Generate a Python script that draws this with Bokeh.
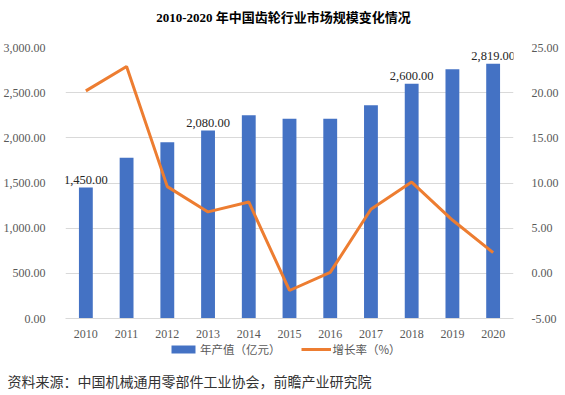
from bokeh.plotting import figure
from bokeh.layouts import column
from bokeh.models import (Range1d, LinearAxis, FactorRange, FixedTicker, NumeralTickFormatter,
                          ColumnDataSource, LabelSet, Label, Legend, LegendItem, Title)
from bokeh.embed import file_html
from bokeh.resources import INLINE
from bokeh.core.properties import value

# ---------------- data ----------------
years = ["2010", "2011", "2012", "2013", "2014", "2015", "2016", "2017", "2018", "2019", "2020"]
output_value = [1450, 1780, 1950, 2080, 2250, 2210, 2210, 2360, 2600, 2760, 2819]   # 年产值（亿元）
growth_rate = [20.2, 22.9, 9.6, 6.8, 7.9, -1.9, 0.1, 7.1, 10.1, 5.9, 2.3]          # 增长率（%）
labeled_years = ["2010", "2013", "2018", "2020"]
left_ticks = [0, 500, 1000, 1500, 2000, 2500, 3000]
right_ticks = [-5, 0, 5, 10, 15, 20, 25]
title_text = "2010-2020 年中国齿轮行业市场规模变化情况"
source_text = "资料来源：中国机械通用零部件工业协会，前瞻产业研究院"
bar_name = "年产值（亿元）"
line_name = "增长率（%）"

# ---------------- styles ----------------
SERIF = "Liberation Serif"
CJK = "Noto Sans CJK SC"
BAR_COLOR = "#4472C4"
LINE_COLOR = "#ED7D31"
TICK_COLOR = "#595959"
GRID_COLOR = "#D9D9D9"
W = 563
LEFT, RIGHT = 65, 50


def blank(height):
    f = figure(width=W, height=height, min_border_left=LEFT, min_border_right=RIGHT,
               min_border_top=0, min_border_bottom=0,
               x_axis_location=None, y_axis_location=None,
               output_backend="svg", toolbar_location=None, outline_line_color=None,
               background_fill_color="white", border_fill_color="white")
    f.grid.grid_line_color = None
    return f


src = ColumnDataSource(dict(year=years, value=output_value, rate=growth_rate))

# ---------------- header (title) ----------------
p_head = blank(33)
p_head.add_layout(Label(x=218, y=16, x_units="screen", y_units="screen", text=title_text,
                        text_align="center", text_baseline="middle",
                        text_font=f"{SERIF}, {CJK}", text_font_size="13px",
                        text_font_style="bold", text_color="#000000"))

# ---------------- main chart ----------------
lab_vals = [output_value[years.index(y)] for y in labeled_years]
lab_src = ColumnDataSource(dict(year=labeled_years, value=lab_vals,
                                text=[f"{v:,.2f}" for v in lab_vals]))

p = figure(x_range=FactorRange(*years), y_range=Range1d(0, 3000),
           width=W, height=307,
           min_border_left=LEFT, min_border_right=RIGHT, min_border_top=14, min_border_bottom=20,
           output_backend="svg", toolbar_location=None,
           outline_line_color=None, background_fill_color="white", border_fill_color="white")
p.extra_y_ranges = {"rate": Range1d(-5, 25)}

p.yaxis.ticker = FixedTicker(ticks=left_ticks)
p.yaxis.formatter = NumeralTickFormatter(format="0,0.00")
p.yaxis.axis_line_color = None
p.yaxis.major_tick_line_color = None
p.yaxis.minor_tick_line_color = None
p.yaxis.major_label_standoff = 14
p.yaxis.major_label_text_font = SERIF
p.yaxis.major_label_text_font_size = "12px"
p.yaxis.major_label_text_color = TICK_COLOR

raxis = LinearAxis(y_range_name="rate", ticker=FixedTicker(ticks=right_ticks),
                   formatter=NumeralTickFormatter(format="0.00"),
                   axis_line_color=None, major_tick_line_color=None, minor_tick_line_color=None,
                   major_label_standoff=12, major_label_text_font=SERIF,
                   major_label_text_font_size="12px", major_label_text_color=TICK_COLOR)
p.add_layout(raxis, "right")

p.xaxis.axis_line_color = GRID_COLOR
p.xaxis.major_tick_line_color = None
p.xaxis.minor_tick_line_color = None
p.xaxis.major_label_standoff = 5
p.xaxis.major_label_text_font = SERIF
p.xaxis.major_label_text_font_size = "12px"
p.xaxis.major_label_text_color = TICK_COLOR

p.xgrid.grid_line_color = None
p.ygrid.grid_line_color = GRID_COLOR
p.ygrid.grid_line_width = 1

p.vbar(x="year", top="value", width=0.34, source=src, fill_color=BAR_COLOR, line_color=None)
p.line(x="year", y="rate", source=src, y_range_name="rate", line_color=LINE_COLOR, line_width=3)

p.add_layout(LabelSet(x="year", y="value", text="text", source=lab_src,
                      y_offset=4, text_align="center", text_baseline="bottom",
                      text_font=value(SERIF), text_font_size="12.5px", text_color="#262626"))

# ---------------- footer (legend + source) ----------------
p_foot = blank(50)
# legend proxies (same styling as the chart series, not shown themselves)
leg_bar = p_foot.vbar(x="rate", top="value", source=src, width=0.34,
                      fill_color=BAR_COLOR, line_color=None, visible=False)
leg_line = p_foot.line(x="rate", y="value", source=src,
                       line_color=LINE_COLOR, line_width=3, visible=False)
legend = Legend(items=[LegendItem(label=bar_name, renderers=[leg_bar]),
                       LegendItem(label=line_name, renderers=[leg_line])],
                orientation="horizontal", location=(103, 11),
                glyph_width=30, glyph_height=10, label_height=14,
                label_standoff=2, spacing=20, padding=0, margin=0,
                border_line_color=None, background_fill_alpha=0,
                inactive_fill_alpha=0,
                label_text_font=CJK, label_text_font_size="11.5px",
                label_text_color=TICK_COLOR)
p_foot.add_layout(legend, "center")
p_foot.add_layout(Title(text=source_text, align="left", offset=-58, standoff=0,
                        text_font=CJK, text_font_size="14px", text_font_style="normal",
                        text_color="#333333"), "below")

layout = column(p_head, p, p_foot, spacing=0)
open("out.html", "w").write(file_html(layout, INLINE))
